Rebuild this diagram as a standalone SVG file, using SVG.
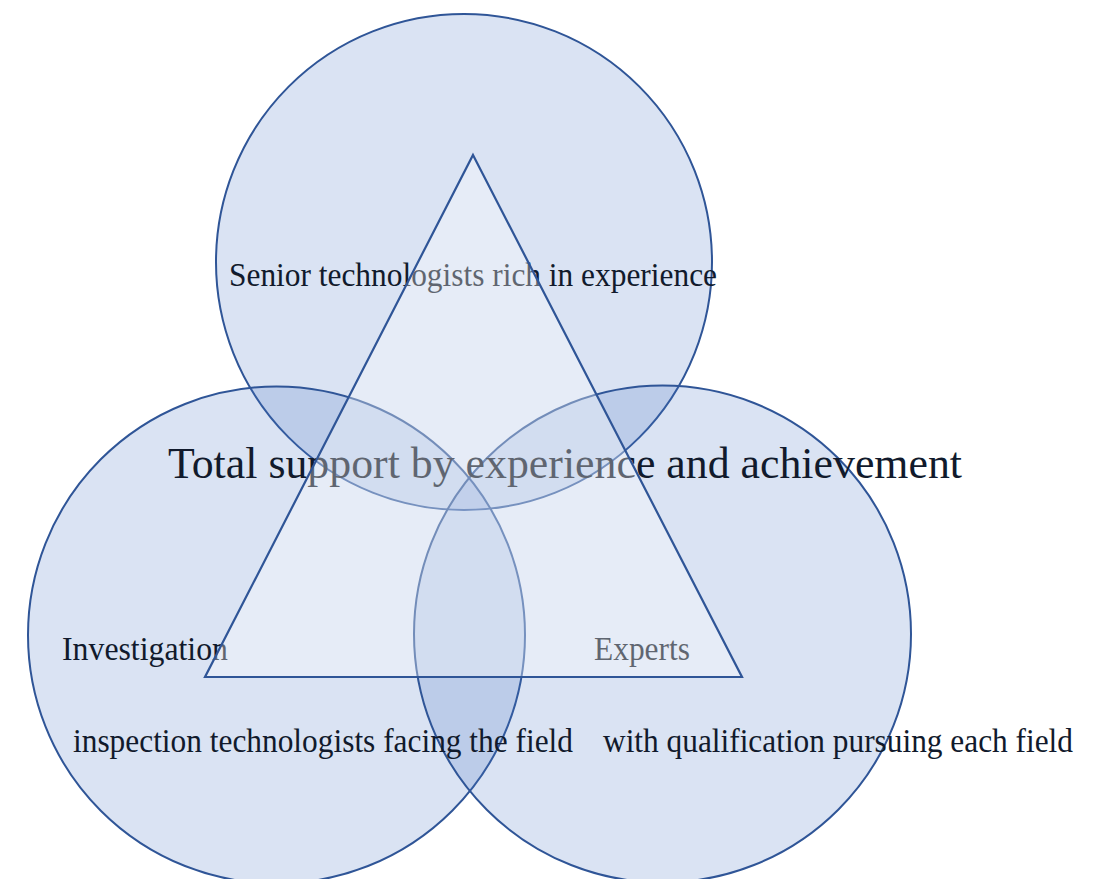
<svg xmlns="http://www.w3.org/2000/svg" width="1100" height="879" viewBox="0 0 1100 879">
  <style>
    .circ { fill: #4472C4; fill-opacity: 0.2; stroke: #2F5597; stroke-width: 2; }
    .tri { fill: #FFFFFF; fill-opacity: 0.33; stroke: #2F5597; stroke-width: 2.2; stroke-linejoin: miter; }
    .lbl { font-family: "Liberation Serif", "DejaVu Serif", serif; fill: #111a2c; }
    .sm { font-size: 33px; }
    .lg { font-size: 45px; }
  </style>
  <rect width="1100" height="879" fill="#FFFFFF"/>
  <g id="circle-top"><circle class="circ" cx="464" cy="262" r="248"/></g>
  <g id="circle-left"><circle class="circ" cx="276.5" cy="635" r="248.5"/></g>
  <g id="circle-right"><circle class="circ" cx="662.5" cy="634" r="248.5"/></g>
  <g id="labels">
    <text class="lbl sm" x="229" y="286" textLength="488" lengthAdjust="spacingAndGlyphs">Senior technologists rich in experience</text>
    <text class="lbl lg" x="168" y="478" textLength="794" lengthAdjust="spacingAndGlyphs">Total support by experience and achievement</text>
    <text class="lbl sm" x="62" y="660" textLength="166" lengthAdjust="spacingAndGlyphs">Investigation</text>
    <text class="lbl sm" x="594" y="660" textLength="96" lengthAdjust="spacingAndGlyphs">Experts</text>
    <text class="lbl sm" x="73" y="752" textLength="500" lengthAdjust="spacingAndGlyphs">inspection technologists facing the field</text>
    <text class="lbl sm" x="603" y="752" textLength="470" lengthAdjust="spacingAndGlyphs">with qualification pursuing each field</text>
  </g>
  <g id="triangle"><polygon class="tri" points="473,155 742,677 205,677"/></g>
</svg>
